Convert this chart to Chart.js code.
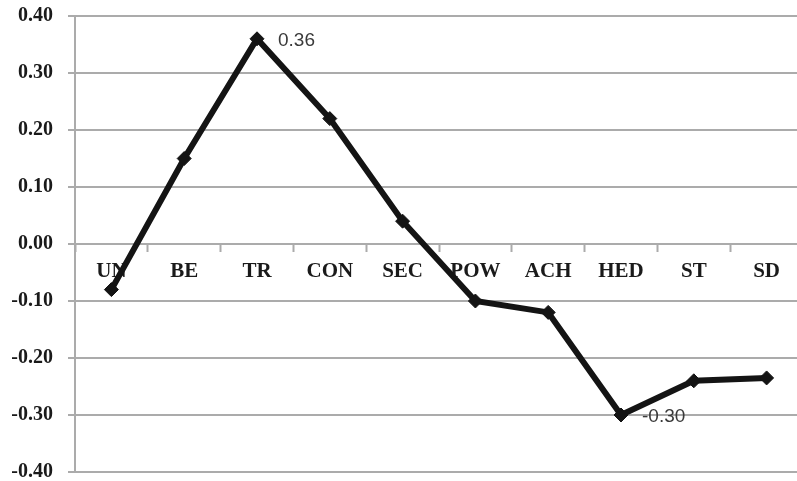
<!DOCTYPE html>
<html>
<head>
<meta charset="utf-8">
<script src="https://cdn.jsdelivr.net/npm/chart.js@4"></script>
<style>
  html, body { margin: 0; padding: 0; background: #fff; overflow: hidden; }
  #wrap { width: 797px; height: 481px; overflow: hidden; }
  #c { width: 811px; height: 481px; display: block; }
</style>
</head>
<body>
<div id="wrap"><canvas id="c" width="811" height="481"></canvas></div>
<script>
// Value dimensions and their correlation scores
const categories = ['UN', 'BE', 'TR', 'CON', 'SEC', 'POW', 'ACH', 'HED', 'ST', 'SD'];
const scores = [-0.08, 0.15, 0.36, 0.22, 0.04, -0.10, -0.12, -0.30, -0.24, -0.235];
// Points whose value is printed beside the marker
const labelled = [2, 7];
const yTicks = [-0.4, -0.3, -0.2, -0.1, 0, 0.1, 0.2, 0.3, 0.4];

const gridGrey = '#ababab';

// Prints the value next to selected markers
const valueLabels = {
  id: 'valueLabels',
  afterDatasetsDraw(chart) {
    const ctx = chart.ctx;
    const meta = chart.getDatasetMeta(0);
    ctx.save();
    ctx.font = '19px "Liberation Sans", Arial, sans-serif';
    ctx.fillStyle = '#3a3a3a';
    ctx.textAlign = 'left';
    ctx.textBaseline = 'middle';
    labelled.forEach(i => {
      const p = meta.data[i];
      ctx.fillText(scores[i].toFixed(2), p.x + 21, p.y + 2);
    });
    ctx.restore();
  }
};

new Chart(document.getElementById('c'), {
  type: 'line',
  data: {
    labels: categories,
    datasets: [{
      data: scores,
      borderColor: '#141414',
      borderWidth: 6,
      pointStyle: 'rectRot',
      pointRadius: 7,
      pointBackgroundColor: '#141414',
      pointBorderColor: '#141414',
      pointBorderWidth: 1,
      tension: 0
    }]
  },
  options: {
    responsive: false,
    animation: false,
    layout: { padding: { top: 16, bottom: 9, right: 0, left: 0 } },
    plugins: { legend: { display: false }, tooltip: { enabled: false } },
    scales: {
      x: {
        type: 'category',
        position: { y: 0 },
        offset: true,
        afterFit(scale) {
          scale.height = 0;
          scale.paddingLeft = 0;
          scale.paddingRight = 0;
        },
        grid: {
          offset: true,
          drawOnChartArea: false,
          drawTicks: true,
          tickLength: 7,
          tickWidth: 2,
          tickColor: gridGrey
        },
        border: { display: true, color: gridGrey, width: 2 },
        ticks: {
          color: '#1a1a1a',
          font: { family: '"Liberation Serif", "Times New Roman", serif', size: 21, weight: 'bold' },
          padding: 8,
          maxRotation: 0,
          autoSkip: false
        }
      },
      y: {
        min: -0.4,
        max: 0.4,
        afterBuildTicks(scale) {
          scale.ticks = yTicks.map(v => ({ value: v }));
        },
        afterFit(scale) {
          scale.width = 75;
          scale.paddingTop = 0;
          scale.paddingBottom = 0;
        },
        grid: {
          color: gridGrey,
          lineWidth: 2,
          tickLength: 7,
          tickColor: gridGrey
        },
        border: { display: true, color: gridGrey, width: 2 },
        ticks: {
          color: '#1a1a1a',
          font: { family: '"Liberation Serif", "Times New Roman", serif', size: 20, weight: 'bold' },
          padding: 15,
          callback: v => Number(v).toFixed(2)
        }
      }
    }
  },
  plugins: [valueLabels]
});
</script>
</body>
</html>
